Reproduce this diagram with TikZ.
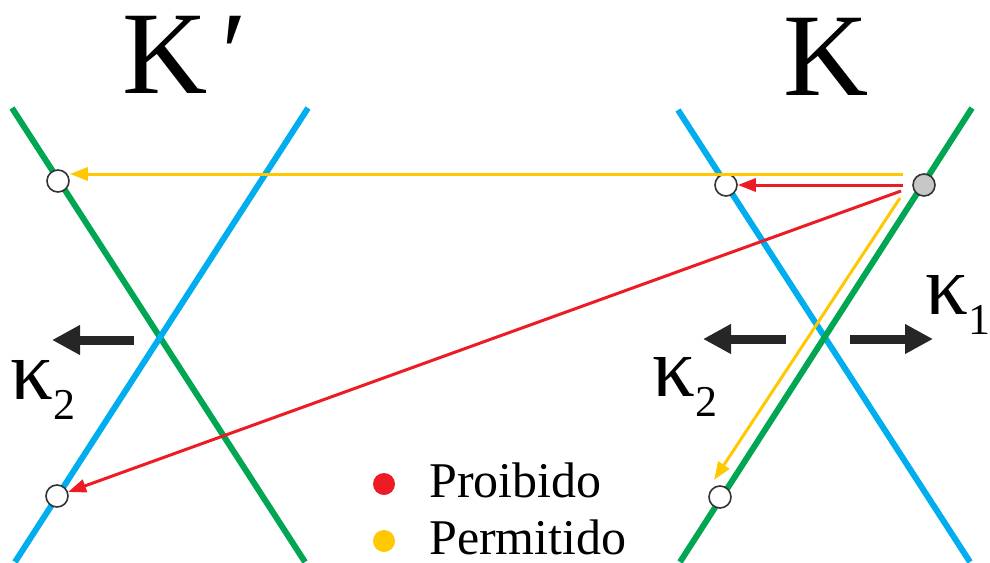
\documentclass[tikz,border=0pt]{standalone}
\usepackage{fontspec}
\setmainfont{Liberation Serif}
\usetikzlibrary{arrows.meta}

\definecolor{bandgreen}{RGB}{0,166,81}
\definecolor{bandblue}{RGB}{0,174,239}
\definecolor{hopred}{RGB}{237,28,36}
\definecolor{hopyellow}{RGB}{255,200,0}

\tikzstyle{band} = [
line width=6pt
]
\tikzstyle{site} = [
circle,
draw=black!80,
line width=1.6pt,
fill=white,
minimum size=22pt,
inner sep=0pt
]
\tikzstyle{hop} = [
line width=3pt,
-{Triangle[length=18pt,width=13pt]}
]
\tikzstyle{push} = [
line width=9pt,
black!85,
-{Triangle[length=28pt,width=28pt]}
]
\tikzstyle{valley} = [
font=\fontsize{118}{118}\selectfont,
inner sep=0pt,
anchor=base west
]
\tikzstyle{legend} = [
font=\fontsize{50}{50}\selectfont,
inner sep=0pt,
anchor=base west
]

\newcommand{\kapsub}[1]{{\fontsize{85}{85}\selectfont κ}\raisebox{-20pt}{\fontsize{44}{44}\selectfont #1}}

\begin{document}
\begin{tikzpicture}[
x=1pt,
y=-1pt
]
\useasboundingbox (0,0) rectangle (990,562);

% Valley labels
\node (kprime) [valley] at (122,93) {K\hspace{14pt}′};
\node (kval) [valley] at (783,95) {K};

% Bands
\coordinate (lg1) at (12,108);
\coordinate (lg2) at (305,562);
\coordinate (lb1) at (308,108);
\coordinate (lb2) at (15,562);
\coordinate (rb1) at (678,110);
\coordinate (rb2) at (970,562);
\coordinate (rg1) at (972,108);
\coordinate (rg2) at (680,562);
\draw [band, bandgreen] (lg1) -- (lg2);
\draw [band, bandblue] (lb1) -- (lb2);
\draw [band, bandblue] (rb1) -- (rb2);
\draw [band, bandgreen] (rg1) -- (rg2);

% Sites
\node (ltop) [site] at (58,181) {};
\node (lbot) [site] at (57,496) {};
\node (rtop) [site] at (726,185) {};
\node (rbot) [site] at (720,497) {};
\node (rgray) [site, fill=black!22] at (924,185) {};

% Hops
\coordinate (ys1) at (903,174);
\coordinate (rs1) at (903,185);
\coordinate (rs2) at (901,191);
\coordinate (ys2) at (900,198);
\coordinate (ye2) at (714,480);
\draw [hop, hopyellow] (ys1) -- (ys1 -| ltop.east);
\draw [hop, hopred] (rs1) -- (rtop);
\draw [hop, hopred] (rs2) -- (lbot);
\draw [hop, hopyellow] (ys2) -- (ye2);

% Momentum arrows
\coordinate (pl1) at (134,340);
\coordinate (pl2) at (52,340);
\coordinate (pr1) at (786,339);
\coordinate (pr2) at (703,339);
\coordinate (pr3) at (850,339);
\coordinate (pr4) at (933,339);
\draw [push] (pl1) -- (pl2);
\draw [push] (pr1) -- (pr2);
\draw [push] (pr3) -- (pr4);

\node (kapl) [inner sep=0pt, anchor=base west] at (10,399) {\kapsub{2}};
\node (kapr) [inner sep=0pt, anchor=base west] at (652,396) {\kapsub{2}};
\node (kapone) [inner sep=0pt, anchor=base west] at (925,314) {\kapsub{1}};

% Legend
\node (redmark) [circle, fill=hopred, minimum size=22pt, inner sep=0pt] at (384,484) {};
\node (yelmark) [circle, fill=hopyellow, minimum size=22pt, inner sep=0pt] at (384,541) {};
\node (forbid) [legend] at (429,497) {Proibido};
\node (allow) [legend] at (429,554) {Permitido};

\end{tikzpicture}
\end{document}
